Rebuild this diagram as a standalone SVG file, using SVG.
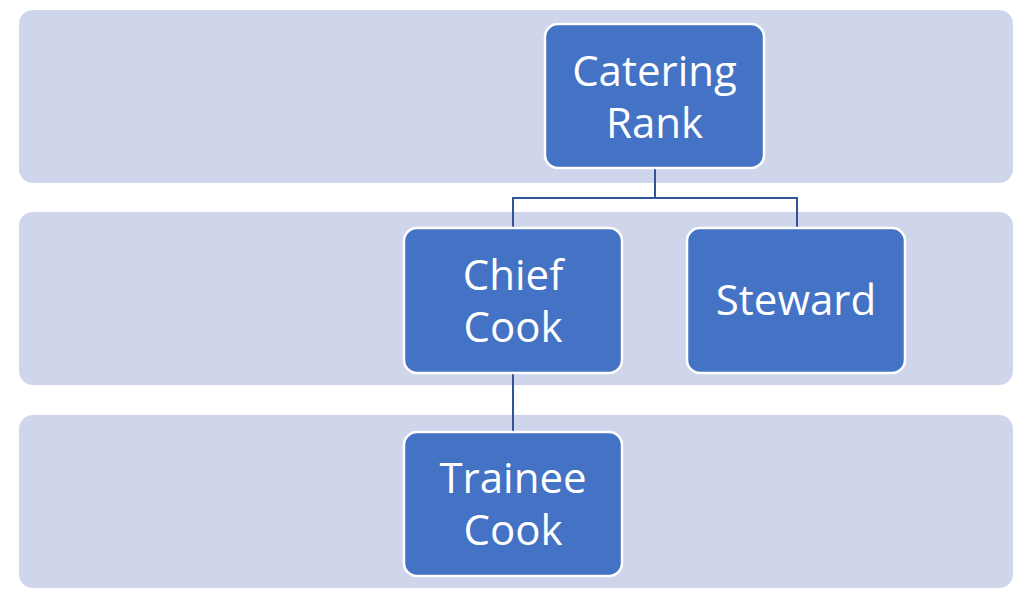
<svg xmlns="http://www.w3.org/2000/svg" width="1024" height="608" viewBox="0 0 1024 608">
<style>
.band{fill:#CFD5EA}
.node rect{fill:#4472C4;stroke:#FFFFFF;stroke-width:2.5}
.node text{fill:#FFFFFF;font-family:"Open Sans","Noto Sans",sans-serif;font-size:42px;text-anchor:middle}
.conn{fill:none;stroke:#2F5597;stroke-width:2}
</style>
<rect width="1024" height="608" fill="#FFFFFF"/>
<g id="bands">
<rect class="band" x="19" y="10" width="994" height="173" rx="14"/>
<rect class="band" x="19" y="212" width="994" height="173" rx="14"/>
<rect class="band" x="19" y="415" width="994" height="173" rx="14"/>
</g>
<g id="connectors">
<path class="conn" d="M655 168V198H513V228M655 198H797V228"/>
<path class="conn" d="M513 373V432"/>
</g>
<g id="catering-rank" class="node">
<rect x="545" y="24" width="219" height="144" rx="13"/>
<text x="654.5" y="86">Catering</text>
<text x="654.5" y="138">Rank</text>
</g>
<g id="chief-cook" class="node">
<rect x="404" y="228" width="218" height="145" rx="13"/>
<text x="513" y="290">Chief</text>
<text x="513" y="342">Cook</text>
</g>
<g id="steward" class="node">
<rect x="687" y="228" width="218" height="145" rx="13"/>
<text x="796" y="315">Steward</text>
</g>
<g id="trainee-cook" class="node">
<rect x="404" y="432" width="218" height="144" rx="13"/>
<text x="513" y="493">Trainee</text>
<text x="513" y="545">Cook</text>
</g>
</svg>
